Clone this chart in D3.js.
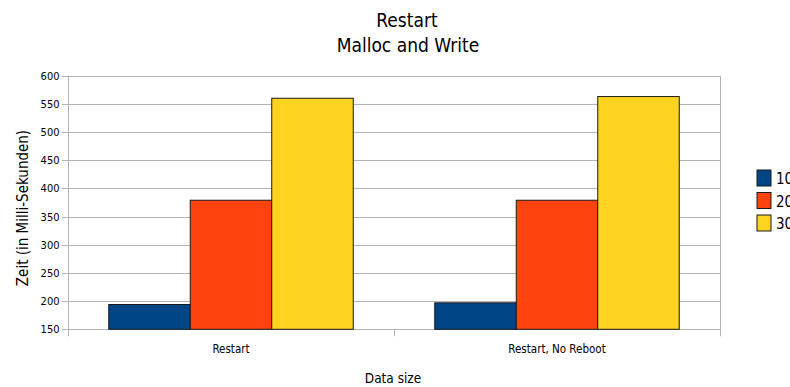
<!DOCTYPE html>
<html>
<head>
<meta charset="utf-8">
<script src="https://cdn.jsdelivr.net/npm/d3@7"></script>
<style>
  html, body { margin: 0; padding: 0; background: #fff; }
  svg { display: block; }
  text { font-family: "DejaVu Sans Condensed", "DejaVu Sans", sans-serif; fill: #000; }
</style>
</head>
<body>
<svg id="chart" width="790" height="387"></svg>
<script>
// Measurements (ms) per scenario and data size
const categories = ["Restart", "Restart, No Reboot"];
const seriesNames = ["10", "20", "30"];
const size10 = [194, 197];
const size20 = [379, 379];
const size30 = [560, 563];
const yTicks = [150, 200, 250, 300, 350, 400, 450, 500, 550, 600];
const colors = ["#004586", "#ff420e", "#ffd320"];

const values = [size10, size20, size30];
const svg = d3.select("#chart");

const plot = { left: 68, right: 720, top: 75.7, bottom: 329.3 };

const x0 = d3.scaleBand().domain(categories).range([plot.left, plot.right]).paddingInner(0).paddingOuter(0);
const x1 = d3.scaleBand().domain(seriesNames).range([0, x0.bandwidth()]).paddingInner(0).paddingOuter(0.5);
const y = d3.scaleLinear().domain([150, 600]).range([plot.bottom, plot.top]);

// Horizontal grid
svg.append("g")
  .selectAll("line")
  .data(yTicks)
  .join("line")
  .attr("x1", plot.left - 6).attr("x2", plot.right)
  .attr("y1", d => Math.round(y(d)) + 0.5).attr("y2", d => Math.round(y(d)) + 0.5)
  .attr("stroke", "#b3b3b3").attr("stroke-width", 1);

// Right border of plot area
svg.append("line")
  .attr("x1", plot.right + 0.5).attr("x2", plot.right + 0.5)
  .attr("y1", y(600)).attr("y2", y(150))
  .attr("stroke", "#b3b3b3");

// Y axis
const yAxis = d3.axisLeft(y).tickValues(yTicks).tickSize(0).tickPadding(9);
const gy = svg.append("g").attr("transform", `translate(${plot.left + 0.5},0)`).call(yAxis);
gy.select(".domain").attr("stroke", "#b3b3b3").attr("d", `M0,${y(600)}V${y(150) + 6}`);
gy.selectAll("text").attr("font-size", 11).attr("font-family", "DejaVu Sans").attr("fill", "#000");

// X axis
const xAxis = d3.axisBottom(x0).tickSize(0).tickPadding(15);
const gx = svg.append("g").attr("transform", `translate(0,${Math.round(plot.bottom) + 0.5})`).call(xAxis);
gx.select(".domain").remove();
gx.selectAll("text")
  .attr("font-size", 11.5)
  .attr("font-family", "DejaVu Sans Condensed, DejaVu Sans")
  .attr("fill", "#000");
// Category separators
svg.append("g")
  .selectAll("line")
  .data([plot.left, plot.left + x0.bandwidth(), plot.right])
  .join("line")
  .attr("x1", d => Math.round(d) + 0.5).attr("x2", d => Math.round(d) + 0.5)
  .attr("y1", plot.bottom).attr("y2", plot.bottom + 7)
  .attr("stroke", "#b3b3b3");

// Bars
const groups = svg.append("g")
  .selectAll("g")
  .data(categories)
  .join("g")
  .attr("transform", d => `translate(${x0(d)},0)`);

groups.selectAll("rect")
  .data((c, ci) => seriesNames.map((s, si) => ({ s, si, v: values[si][ci] })))
  .join("rect")
  .attr("x", d => x1(d.s))
  .attr("width", x1.bandwidth())
  .attr("y", d => y(d.v))
  .attr("height", d => y(150) - y(d.v))
  .attr("fill", d => colors[d.si])
  .attr("stroke", "#1a1a1a")
  .attr("stroke-width", 1);

// Titles
svg.append("text").attr("x", 407).attr("y", 27).attr("text-anchor", "middle")
  .attr("font-size", 19).text("Restart");
svg.append("text").attr("x", 408).attr("y", 52).attr("text-anchor", "middle")
  .attr("font-size", 19).text("Malloc and Write");

// Axis titles
svg.append("text").attr("transform", "translate(28,208) rotate(-90)").attr("text-anchor", "middle")
  .attr("font-size", 15).text("Zeit (in Milli-Sekunden)");
svg.append("text").attr("x", 393).attr("y", 383).attr("text-anchor", "middle")
  .attr("font-size", 13.5).text("Data size");

// Legend
const legend = svg.append("g")
  .selectAll("g")
  .data(seriesNames)
  .join("g")
  .attr("transform", (d, i) => `translate(757,${170 + i * 22.5})`);
legend.append("rect")
  .attr("width", 14).attr("height", 16)
  .attr("fill", (d, i) => colors[i])
  .attr("stroke", "#1a1a1a");
legend.append("text")
  .attr("x", 19).attr("y", 14)
  .attr("font-size", 15)
  .text(d => d);
</script>
</body>
</html>
